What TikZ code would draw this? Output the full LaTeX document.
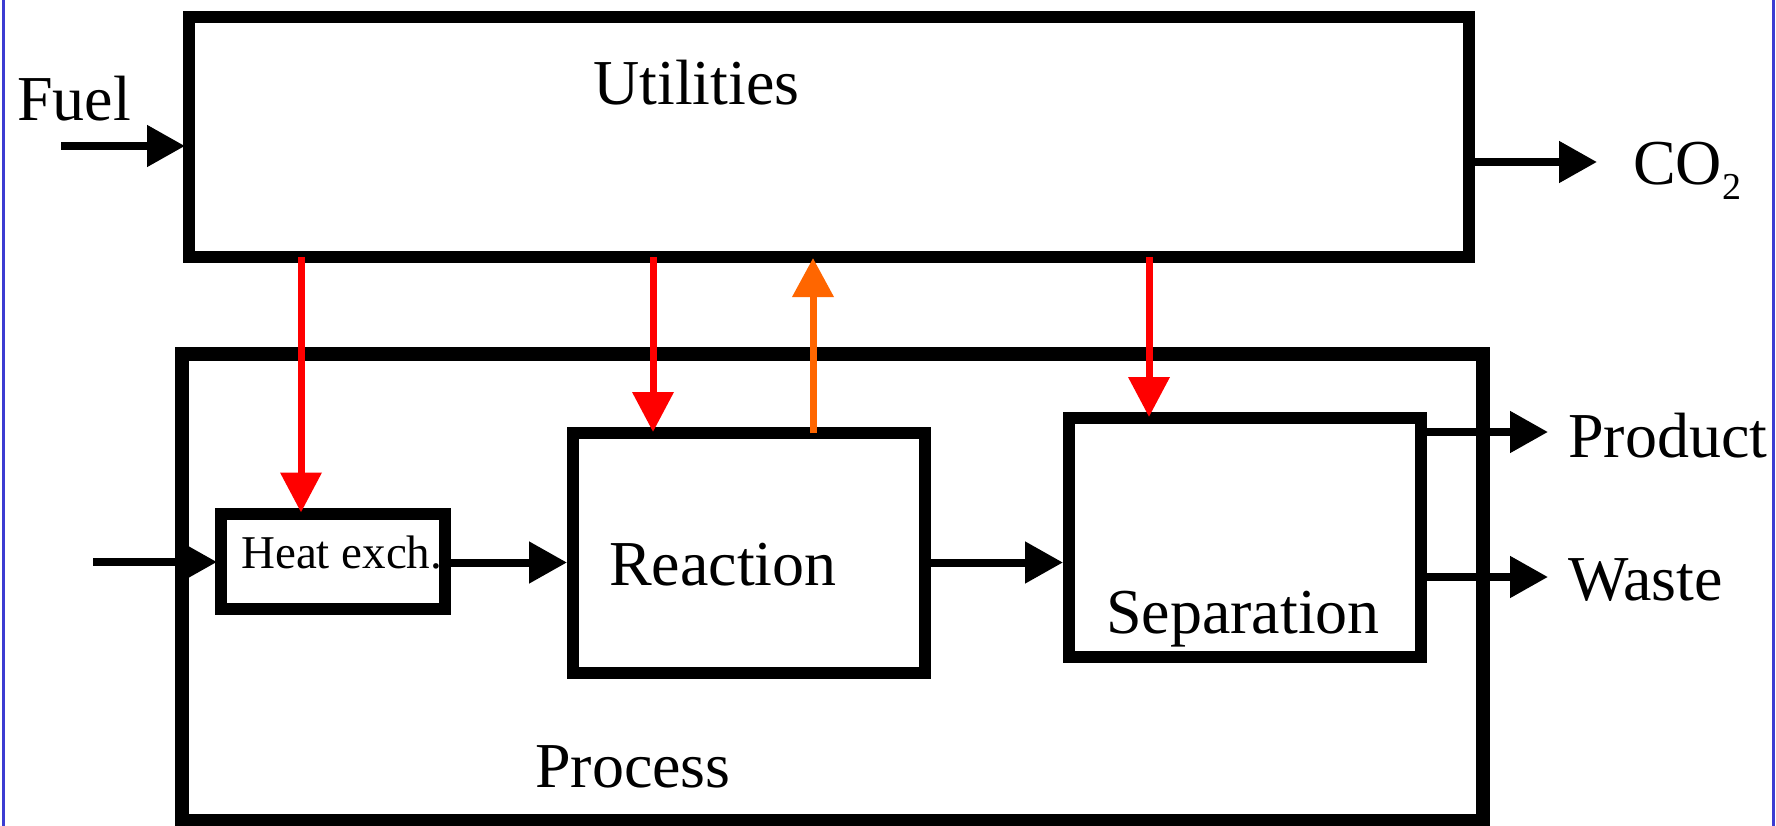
\documentclass[tikz,border=0pt]{standalone}
\usepackage{fontspec}
\setmainfont{Liberation Serif}
\usetikzlibrary{arrows.meta}
\definecolor{hotred}{RGB}{255,0,0}
\definecolor{warmorange}{RGB}{255,102,0}
\definecolor{frameblue}{RGB}{60,60,210}
\begin{document}
\begin{tikzpicture}[x=1pt,y=-1pt,
  lbl/.style={inner sep=0pt, anchor=base west, font=\fontsize{64pt}{70pt}\selectfont},
  smalllbl/.style={inner sep=0pt, anchor=base west, font=\fontsize{47pt}{52pt}\selectfont},
  box/.style={draw=black, line width=12pt, inner sep=0pt},
  bigbox/.style={draw=black, line width=14pt, inner sep=0pt},
  barrow/.style={draw=black, line width=8pt, -{Triangle[length=38pt,width=40pt]}},
  rarrow/.style={draw=hotred, line width=7pt, -{Triangle[length=40pt,width=40pt]}, shorten >=-5pt},
  oarrow/.style={draw=warmorange, line width=7pt, -{Triangle[length=39pt,width=40pt]}, shorten >=-5pt},
  frameline/.style={draw=frameblue, line width=3pt}
]
\useasboundingbox (0,0) rectangle (1776,826);
\fill[white] (0,0) rectangle (1776,826);

% frame lines
\draw[frameline] (3.5,0) -- (3.5,826);
\draw[frameline] (1773.5,0) -- (1773.5,826);

% labels
\node[lbl] (tfuel) at (17,121) {Fuel};
\node[lbl] (tutil) at (593,105) {Utilities};
\node[lbl] (tco2) at (1633,185) {CO\raisebox{-15pt}{\fontsize{38pt}{40pt}\selectfont 2}};
\node[smalllbl] (theat) at (241,568) {Heat exch.};
\node[lbl] (treact) at (609,585) {Reaction};
\node[lbl] (tsep) at (1106,633) {Separation};
\node[lbl] (tproc) at (535,787) {Process};
\node[lbl] (tprod) at (1568,457) {Product};
\node[lbl] (twaste) at (1568,600) {Waste};

% boxes
\node[box, minimum width=1280pt, minimum height=239.5pt] (util) at (829,137.25) {};
\node[bigbox, minimum width=1301pt, minimum height=467.5pt] (proc) at (832.5,587.25) {};
\node[box, minimum width=224pt, minimum height=95.5pt] (heat) at (333,561.25) {};
\node[box, minimum width=352pt, minimum height=240pt] (react) at (749,553) {};
\node[box, minimum width=352pt, minimum height=239pt] (sep) at (1245,537.5) {};

% black flow arrows
\coordinate (fuelin) at (61,146);
\draw[barrow, shorten >=-2pt] (fuelin) -- (fuelin -| util.west);
\coordinate (co2end) at (1597,162);
\draw[barrow] (co2end -| util.east) -- (co2end);
\coordinate (feedin) at (93,562);
\draw[barrow, shorten >=-2pt] (feedin) -- (feedin -| heat.west);
\coordinate (midline) at (500,562.5);
\draw[barrow] (midline -| heat.east) -- (midline -| react.west);
\draw[barrow] (midline -| react.east) -- (midline -| sep.west);
\coordinate (prodend) at (1548,432);
\draw[barrow] (prodend -| sep.east) -- (prodend);
\coordinate (wasteend) at (1548,577);
\draw[barrow] (wasteend -| sep.east) -- (wasteend);

% heat arrows
\coordinate (r1) at (301,257);
\draw[rarrow] (r1) -- (r1 |- heat.north);
\coordinate (r2) at (653,257);
\draw[rarrow] (r2) -- (r2 |- react.north);
\coordinate (r3) at (1149,257);
\draw[rarrow] (r3) -- (r3 |- sep.north);
\coordinate (o1) at (813,433);
\draw[oarrow] (o1) -- (o1 |- util.south);
\end{tikzpicture}
\end{document}
